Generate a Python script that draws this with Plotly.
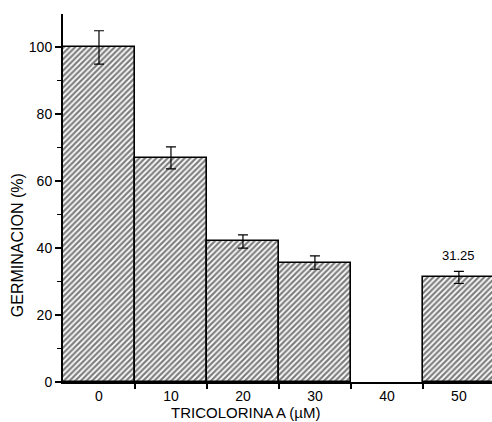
import plotly.graph_objects as go

# Germination (%) versus Tricolorina A concentration (µM)
concentrations = [0, 10, 20, 30, 50]
germination = [100, 67, 42, 35.7, 31.25]
errors = [5, 3.3, 2, 2, 1.8]
tick_labels = ["0", "10", "20", "30", "40", "50"]
tick_positions = [0, 10, 20, 30, 40, 50]
bar_edges = [5, 15, 25, 35, 45]

FONT = "Liberation Sans, Arial, sans-serif"

fig = go.Figure()
fig.add_trace(go.Bar(
    x=concentrations,
    y=germination,
    width=10,
    marker=dict(
        color="white",
        line=dict(color="black", width=1.6),
        pattern=dict(shape="/", fgcolor="black", bgcolor="white",
                     size=4, solidity=0.55),
    ),
    error_y=dict(type="data", array=errors, visible=True,
                 color="black", thickness=1.2, width=5),
    showlegend=False,
))

# value label above the last bar
fig.add_annotation(x=concentrations[-1], y=germination[-1], yshift=22,
                   text="31.25", showarrow=False,
                   xanchor="center", yanchor="middle",
                   font=dict(family=FONT, size=13, color="black"))

# axis titles
fig.add_annotation(x=20.4, xref="x", y=0, yref="y", yshift=-30,
                   xanchor="center", yanchor="middle",
                   text="TRICOLORINA A (µM)", showarrow=False,
                   font=dict(family=FONT, size=15, color="black"))
fig.add_annotation(x=0, xref="paper", xshift=-46, y=40.9, yref="y",
                   xanchor="center", yanchor="middle",
                   text="GERMINACION (%)", showarrow=False, textangle=-90,
                   font=dict(family=FONT, size=16, color="black"))

fig.update_layout(
    width=492, height=422,
    margin=dict(l=63, r=0, t=14, b=40),
    paper_bgcolor="white", plot_bgcolor="white",
    font=dict(family=FONT, size=14, color="black"),
    bargap=0,
    xaxis=dict(
        range=[-5, 54.6],
        tickmode="array", tickvals=tick_positions, ticktext=tick_labels,
        ticks="", showgrid=False, zeroline=False,
        showline=True, linecolor="black", linewidth=2,
        minor=dict(tickmode="array", tickvals=bar_edges, ticks="outside",
                   ticklen=5, tickwidth=1.5, tickcolor="black"),
        ticklabelstandoff=0,
    ),
    yaxis=dict(
        range=[0, 110],
        tickmode="array", tickvals=[0, 20, 40, 60, 80, 100],
        ticks="outside", ticklen=6, tickwidth=1.5, tickcolor="black",
        showgrid=False, zeroline=False,
        showline=True, linecolor="black", linewidth=2,
        minor=dict(tickmode="array", tickvals=[10, 30, 50, 70, 90],
                   ticks="outside", ticklen=4, tickwidth=1.2,
                   tickcolor="black"),
    ),
)

fig.write_html("out.html")
